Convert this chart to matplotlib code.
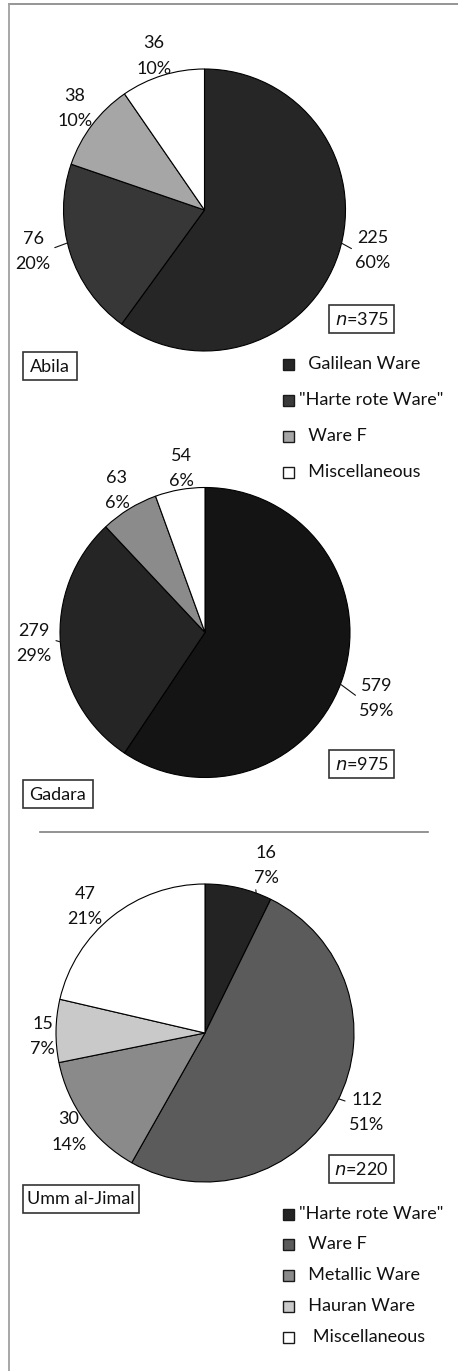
import numpy as np
import matplotlib
matplotlib.use("Agg")
import matplotlib.pyplot as plt
from matplotlib.patches import Rectangle

plt.rcParams['font.family'] = ['Lato', 'DejaVu Sans']

# ---------------- data ----------------
abila_cats = ["Galilean Ware", '"Harte rote Ware"', "Ware F", "Miscellaneous"]
abila_vals = [225, 76, 38, 36]
abila_pcts = ["60%", "20%", "10%", "10%"]

gadara_cats = ["Galilean Ware", '"Harte rote Ware"', "Ware F", "Miscellaneous"]
gadara_vals = [579, 279, 63, 54]
gadara_pcts = ["59%", "29%", "6%", "6%"]

umm_cats = ['"Harte rote Ware"', "Ware F", "Metallic Ware", "Hauran Ware", "Miscellaneous"]
umm_vals = [16, 112, 30, 15, 47]
umm_pcts = ["7%", "51%", "14%", "7%", "21%"]

site_names = ["Abila", "Gadara", "Umm al-Jimal"]
n_labels = ["375", "975", "220"]

legend1_labels = ["  Galilean Ware", '"Harte rote Ware"', "  Ware F", "  Miscellaneous"]
legend3_labels = ['"Harte rote Ware"', "  Ware F", "  Metallic Ware", "  Hauran Ware", "   Miscellaneous"]

# ---------------- style / layout ----------------
W, H = 458, 1371
fig = plt.figure(figsize=(W / 100, H / 100), dpi=100)
FS = 13
LS = 1.7
TC = "#111111"

abila_colors = ["#262626", "#373737", "#a6a6a6", "#ffffff"]
gadara_colors = ["#141414", "#252525", "#8b8b8b", "#ffffff"]
umm_colors = ["#232323", "#5b5b5b", "#8a8a8a", "#c9c9c9", "#ffffff"]
legend1_colors = ["#262626", "#3a3a3a", "#a6a6a6", "#ffffff"]

overlay = fig.add_axes([0, 0, 1, 1])
overlay.set_xlim(0, W)
overlay.set_ylim(H, 0)
overlay.axis("off")

# frame + separator
overlay.plot([8, W], [3.5, 3.5], color="#8c8c8c", lw=1.3, solid_capstyle="butt")
overlay.plot([8.5, 8.5], [3, H], color="#a0a0a0", lw=1.3, solid_capstyle="butt")
overlay.plot([40, 428], [832, 832], color="#808080", lw=1.2)


def draw_pie(cx, cy, r, vals, pcts, colors, dists, nudges, leaders):
    ax = fig.add_axes([(cx - r) / W, (H - (cy + r)) / H, 2 * r / W, 2 * r / H])
    wedges, _ = ax.pie(vals, colors=colors, startangle=90, counterclock=False,
                       wedgeprops=dict(edgecolor="black", linewidth=0.8))
    ax.set_xlim(-1, 1)
    ax.set_ylim(-1, 1)
    ax.set_aspect("auto")
    ax.axis("off")
    for w, v, p, d, nd, ld in zip(wedges, vals, pcts, dists, nudges, leaders):
        mid = 0.5 * (w.theta1 + w.theta2) + nd
        a = np.deg2rad(mid)
        tx, ty = d * np.cos(a), d * np.sin(a)
        if ld is None:
            ax.text(tx, ty, f"{v}\n{p}", ha="center", va="center", fontsize=FS,
                    linespacing=LS, color=TC)
        else:
            ex, ey = np.cos(a), np.sin(a)
            ax.annotate(f"{v}\n{p}", xy=(ex, ey), xytext=(tx, ty), ha="center", va="center",
                        fontsize=FS, linespacing=LS, color=TC, annotation_clip=False,
                        arrowprops=dict(arrowstyle="-", color=TC, lw=0.8,
                                        relpos=ld, shrinkA=1, shrinkB=0))
    return ax


draw_pie(204.5, 210, 141, abila_vals, abila_pcts, abila_colors,
         [1.23, 1.25, 1.17, 1.15], [4.4, -4.0, -0.9, 1.0],
         [(0, 0.5), (1, 0.55), None, None])
draw_pie(205, 632.5, 145, gadara_vals, gadara_pcts, gadara_colors,
         [1.27, 1.18, 1.15, 1.14], [-4.0, -1.0, 0.3, -1.7],
         [(0, 0.5), (1, 0.6), None, None])
draw_pie(205, 1033, 149, umm_vals, umm_pcts, umm_colors,
         [1.2, 1.21, 1.13, 1.09, 1.17], [-7.0, 1.6, 0.0, 2.0, 5.0],
         [(0, 0.25), (0, 0.75), None, None, None])


def box(x0, y0, x1, y1, text, italic_n=False):
    overlay.add_patch(Rectangle((x0, y0), x1 - x0, y1 - y0, fill=False,
                                edgecolor="#333333", lw=1.2))
    s = r"$\mathit{n}$=" + text if italic_n else text
    overlay.text((x0 + x1) / 2, (y0 + y1) / 2 + 0.5, s, ha="center", va="center",
                 fontsize=FS, color=TC)


box(329, 305, 394, 333, n_labels[0], True)
box(329, 750, 394, 778, n_labels[1], True)
box(329, 1155, 394, 1183, n_labels[2], True)
box(23, 352, 77, 380, site_names[0])
box(23, 780, 93, 808, site_names[1])
box(23, 1185, 139, 1213, site_names[2])


def legend(labels, colors, ys):
    for lab, c, y in zip(labels, colors, ys):
        overlay.add_patch(Rectangle((283, y - 5.5), 11, 11, facecolor=c,
                                    edgecolor="#1a1a1a", lw=1.0))
        overlay.text(299, y, lab, ha="left", va="center", fontsize=FS, color=TC)


legend(legend1_labels, legend1_colors, [364, 400, 436, 472])
legend(legend3_labels, umm_colors, [1214, 1244, 1275, 1306, 1337])

fig.savefig("out.png", dpi=100)
